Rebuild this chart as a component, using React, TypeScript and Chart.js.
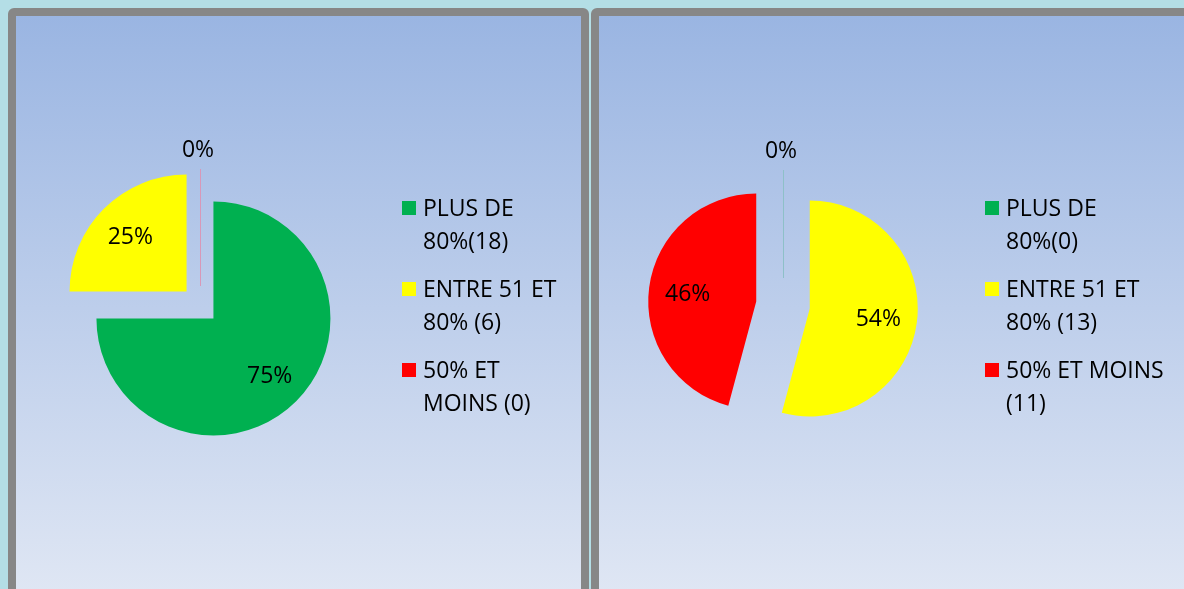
import { useEffect, useRef } from "react";
import { Chart, registerables } from "chart.js";

Chart.register(...registerables);

// ---- data ----
const leftLabels: string[][] = [["PLUS DE", "80%(18)"], ["ENTRE 51 ET", "80% (6)"], ["50% ET", "MOINS (0)"]];
const leftValues = [18, 6, 0];
const rightLabels: string[][] = [["PLUS DE", "80%(0)"], ["ENTRE 51 ET", "80% (13)"], ["50% ET MOINS", "(11)"]];
const rightValues = [0, 13, 11];
const sliceColors = ["#00B050", "#FFFF00", "#FF0000"];
const zeroLineColors = ["#8EC0C8", "#D8D090", "#D898B8"];

const FONT = '23px "Open Sans", "Liberation Sans", Arial, sans-serif';

function centeredText(ctx: CanvasRenderingContext2D, text: string, cx: number, cy: number) {
  ctx.textAlign = "center";
  ctx.textBaseline = "alphabetic";
  const m = ctx.measureText(text);
  const asc = m.actualBoundingBoxAscent;
  const desc = m.actualBoundingBoxDescent;
  ctx.fillText(text, cx, cy + (asc - desc) / 2);
}

const pieDecor = {
  id: "pieDecor",
  beforeDatasetsDraw(chart: any, _args: any, opts: any) {
    // explode every slice by the same distance along its bisector
    const meta = chart.getDatasetMeta(0);
    const ca = chart.chartArea;
    const cx = (ca.left + ca.right) / 2;
    const cy = (ca.top + ca.bottom) / 2;
    meta.data.forEach((arc: any) => {
      const mid = (arc.startAngle + arc.endAngle) / 2;
      arc.x = cx + Math.cos(mid) * opts.explode;
      arc.y = cy + Math.sin(mid) * opts.explode;
    });
  },
  afterDatasetsDraw(chart: any, _args: any, opts: any) {
    const ctx = chart.ctx as CanvasRenderingContext2D;
    const meta = chart.getDatasetMeta(0);
    const data = chart.data.datasets[0].data as number[];
    const sum = data.reduce((a: number, b: number) => a + b, 0) || 1;
    ctx.save();
    meta.data.forEach((arc: any, i: number) => {
      const { x: vx, y: vy, startAngle, endAngle, outerRadius: R } = arc;
      const mid = (startAngle + endAngle) / 2;
      const dx = Math.cos(mid);
      const dy = Math.sin(mid);
      const pct = Math.round((data[i] / sum) * 100) + "%";
      ctx.font = FONT;
      ctx.fillStyle = "#000";
      if (data[i] === 0) {
        ctx.strokeStyle = opts.zeroColors[i];
        ctx.lineWidth = 1;
        ctx.beginPath();
        ctx.moveTo(Math.round(vx) + 0.5, vy);
        ctx.lineTo(Math.round(vx + dx * R) + 0.5, vy + dy * R);
        ctx.stroke();
        centeredText(ctx, pct, vx + dx * (R + 20) - 2, vy + dy * (R + 20) - 1);
      } else {
        const f = opts.labelFrac as number;
        centeredText(ctx, pct, vx + dx * R * f, vy + dy * R * f);
      }
    });
    ctx.restore();
  },
  afterDraw(chart: any, _args: any, opts: any) {
    const ctx = chart.ctx as CanvasRenderingContext2D;
    const labels = chart.data.labels as string[][];
    const colors = chart.data.datasets[0].backgroundColor as string[];
    ctx.save();
    ctx.font = FONT;
    ctx.textAlign = "left";
    ctx.textBaseline = "alphabetic";
    labels.forEach((lines, i) => {
      const base = opts.legendY + i * opts.itemGap;
      ctx.fillStyle = colors[i];
      ctx.fillRect(opts.legendX, base - 14.5, 14, 14);
      ctx.fillStyle = "#000";
      lines.forEach((ln, j) => {
        ctx.fillText(ln, opts.legendX + 21, base + j * opts.lineGap);
      });
    });
    ctx.restore();
  },
};

function PieCanvas(props: {
  labels: string[][];
  values: number[];
  width: number;
  height: number;
  radius: number;
  explode: number;
  labelFrac: number;
  left: number;
  top: number;
}) {
  const ref = useRef<HTMLCanvasElement>(null);
  useEffect(() => {
    if (!ref.current) return;
    const chart = new Chart(ref.current, {
      type: "pie",
      data: {
        labels: props.labels as any,
        datasets: [
          {
            data: props.values,
            backgroundColor: sliceColors,
            borderWidth: 0,
          },
        ],
      },
      options: {
        responsive: false,
        animation: false,
        radius: props.radius,
        layout: { padding: { left: 0, top: 5, right: props.width - 368, bottom: 0 } },
        plugins: {
          legend: { display: false },
          tooltip: { enabled: false },
          pieDecor: {
            explode: props.explode,
            labelFrac: props.labelFrac,
            zeroColors: zeroLineColors,
            legendX: 386,
            legendY: 199.5,
            itemGap: 81,
            lineGap: 33,
          },
        } as any,
      } as any,
      plugins: [pieDecor as any],
    });
    return () => chart.destroy();
  }, []);
  return (
    <canvas
      ref={ref}
      width={props.width}
      height={props.height}
      style={{ position: "absolute", left: props.left, top: props.top, width: props.width, height: props.height }}
    />
  );
}

const panelStyle = (left: number, width: number): any => ({
  position: "absolute",
  left,
  top: 8,
  width,
  height: 600,
  boxSizing: "border-box",
  border: "8px solid #878787",
  borderRadius: 6,
  background: "linear-gradient(to bottom, #9AB5E2 0%, #E0E7F4 100%)",
});

export default function App() {
  useEffect(() => {
    document.body.style.margin = "0";
  }, []);
  return (
    <div
      style={{
        position: "fixed",
        left: 0,
        top: 0,
        width: 1184,
        height: 589,
        overflow: "hidden",
        background: "#B4DEE6",
      }}
    >
      <div style={panelStyle(8, 581)} />
      <div style={panelStyle(591, 620)} />
      <PieCanvas labels={leftLabels} values={leftValues} width={566} height={573} radius={117} explode={19} labelFrac={0.68} left={16} top={16} />
      <PieCanvas labels={rightLabels} values={rightValues} width={585} height={573} radius={108} explode={27} labelFrac={0.64} left={599} top={16} />
    </div>
  );
}
